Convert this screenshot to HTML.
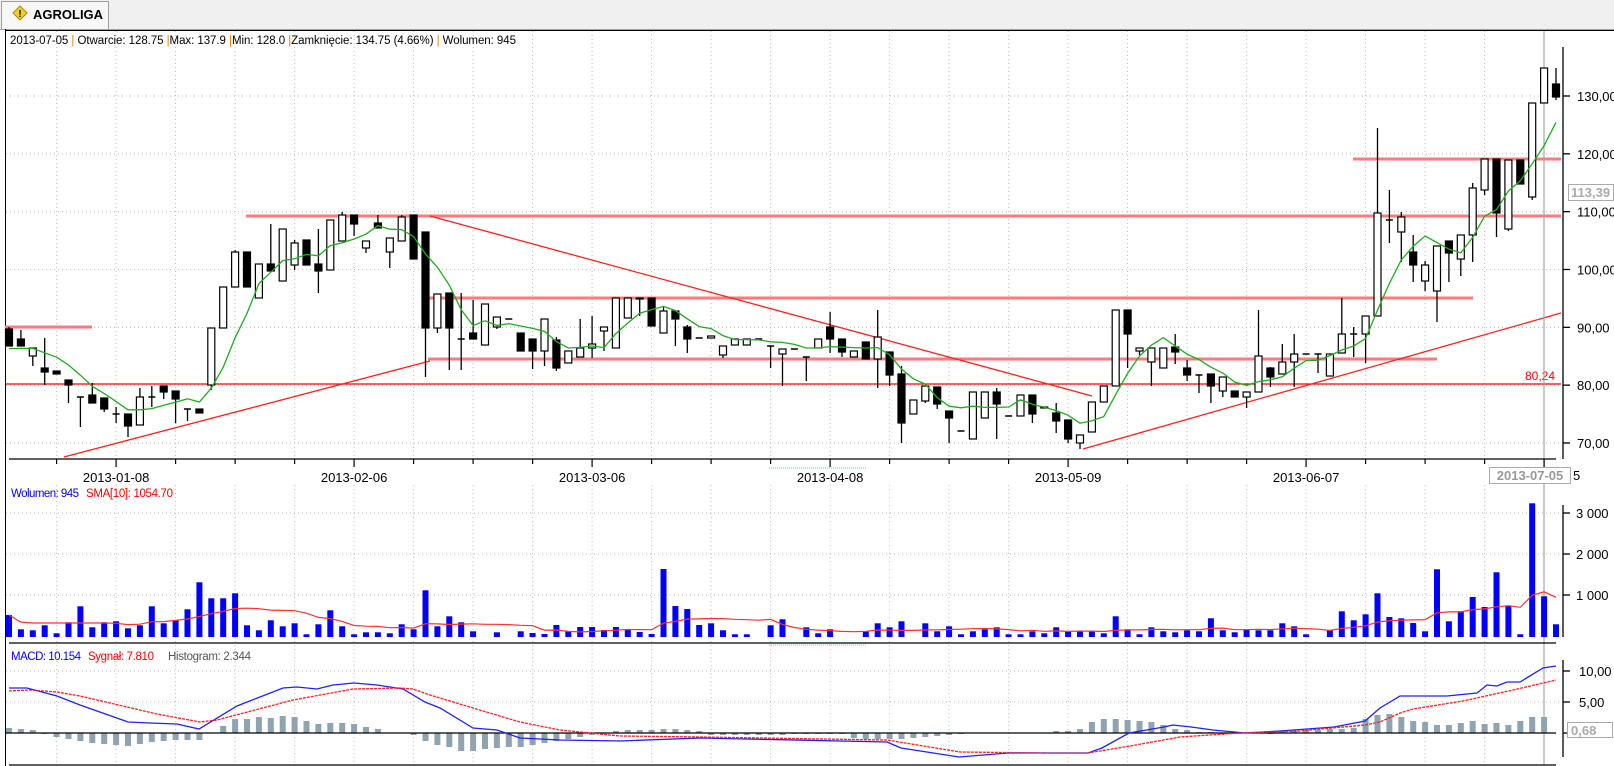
<!DOCTYPE html>
<html><head><meta charset="utf-8"><style>
html,body{margin:0;padding:0;background:#fff;width:1614px;height:766px;overflow:hidden;font-family:"Liberation Sans",sans-serif}
</style></head><body>
<svg id="s" width="1614" height="766" xmlns="http://www.w3.org/2000/svg" font-family="Liberation Sans, sans-serif"></svg>
<script>
const C=[[329,346,327,346,1],[339,346,330,346,1],[348,356,348,366,0],[368,372,338,385,1],[371,374,371,374,1],[380,385,380,403,1],[397,397,397,427,0],[395,403,383,403,1],[398,409,398,412,1],[414,414,407,423,0],
[414,426,414,437,1],[397,425,388,425,0],[397,397,386,407,0],[386,392,386,399,1],[391,399,391,423,1],[409,409,409,421,0],[409,413,409,413,1],[328,385,328,390,0],[287,328,287,328,0],[252,287,250,287,0],
[252,287,252,287,1],[264,298,264,298,0],[264,271,224,271,1],[229,281,229,281,0],[243,265,240,270,0],[240,265,240,265,1],[264,271,229,293,1],[220,270,220,270,0],[215,241,212,241,0],[215,224,215,236,1],
[241,248,241,253,0],[223,228,215,228,1],[238,252,238,268,0],[217,241,215,241,0],[215,259,215,259,1],[232,328,232,377,1],[294,328,294,333,0],[293,328,293,370,1],[339,339,293,370,0],[333,339,300,339,1],
[304,345,304,345,0],[317,327,317,329,0],[319,319,319,319,0],[333,351,333,351,1],[339,351,339,369,1],[319,351,319,366,0],[340,368,337,371,1],[351,363,351,363,0],[348,357,319,357,0],[344,348,316,358,0],
[327,331,327,351,0],[298,348,298,348,0],[298,318,298,318,0],[298,299,298,316,1],[298,326,298,326,1],[311,333,307,333,0],[311,319,311,346,1],[327,339,325,353,1],[338,338,338,338,0],[336,338,336,338,0],
[346,355,346,358,0],[339,345,339,345,0],[339,345,339,345,0],[339,339,339,339,0],[346,346,346,368,0],[349,354,349,386,0],[349,349,349,349,0],[357,357,357,381,0],[339,348,339,348,0],[327,339,312,353,1],
[339,352,339,357,1],[351,357,351,357,0],[342,359,342,359,1],[337,359,310,388,0],[352,375,352,386,1],[374,423,366,443,1],[400,414,400,414,0],[386,401,386,403,0],[387,404,387,409,1],[411,418,411,443,1],
[431,431,431,431,0],[392,439,392,439,0],[392,418,392,418,0],[392,404,388,439,1],[416,416,416,416,0],[395,416,395,416,0],[395,414,395,423,1],[407,408,407,408,0],[413,421,403,433,1],[420,439,420,443,1],
[435,443,435,449,0],[402,432,402,432,0],[386,402,386,402,0],[310,386,310,386,0],[310,334,310,368,1],[348,351,348,355,0],[348,362,348,386,0],[348,368,348,368,0],[347,352,334,364,1],[368,375,360,381,1],
[375,375,375,393,0],[374,386,374,403,1],[377,391,377,397,0],[391,397,391,397,1],[392,397,392,408,0],[356,392,310,392,0],[368,377,367,387,1],[362,374,344,374,0],[354,362,334,387,0],[354,354,354,354,0],
[354,354,354,373,0],[354,376,354,376,0],[334,353,298,353,0],[334,334,327,357,0],[316,334,316,363,0],[213,316,128,316,0],[220,220,190,243,0],[217,232,212,262,0],[252,265,235,282,1],[265,281,261,291,0],
[246,291,246,322,0],[241,253,241,282,1],[235,259,235,276,0],[188,235,183,262,0],[159,190,159,195,0],[159,213,159,237,1],[160,229,160,231,0],[160,184,160,184,1],[103,197,103,200,0],[68,103,68,103,0],[84,97,68,100,1]];
const V=[22,7.7,6.7,11.7,3.7,14.7,30.7,9.7,14.7,15.7,8.7,11.7,30.7,13.7,16.7,27.7,54.7,38.7,38.7,43.7,11.7,6.7,16.7,10.7,13.7,2.7,12.7,26.7,10.7,2.7,4.7,4.7,3.7,12.7,7.7,46.7,10.7,20.7,14.7,5.7,0,4.7,0,5.7,
4,3,12,6,10,10,7,10,7,5,3,68,31,28,12,
13.7,6.7,2.7,2.7,0,11.7,17.7,0,9.7,3.7,7.7,0,0,5.7,13.7,9.7,15.7,0,13.7,5.7,10.7,2.7,5.7,7.7,9.7,2.7,2.7,5.7,3.7,9.7,5.7,5.7,5.7,3.7,20.7,7.7,2.7,9.7,5.7,4.7,6.7,5.7,18.7,6.7,4.7,7.7,6.7,6.7,13.7,10.7,2.7,0,6.7,25.7,16.7,22.7,43.7,
20,18.7,14,5.7,67.7,15.7,25.7,40,30,64.7,31,2.7,133.7,40.7,12.7];
const H=[5,4,3,-1,-4,-6,-8,-10,-11,-12,-13,-11,-9,-8,-7,-7,-7,0,7,14,14,16,15,17,16,12,9,10,10,9,6,4,0,0,-2,-8,-12,-14,-18,-18,-16,-15,-14,-14,
-12,-10,-8,-6,-4,-2,0,2,3,3,3,4,4,3,2,
-2,-2,-2,-2,-2,-2,-2,-1,-1,-1,-1,-1,-5,-6,-6,-6,-6,-5,-4,-3,-2,-1,0,0,0,0,0,0,0,2,2,4,11,14,14,13,12,11,8,4,3,1,1,-1,0,0,0,-1,2,2,3,3,4,4,5,14,
18,19,16,12,11,8,8,10,12,9,10,8,12,16,16];
const X=i=>9+i*11.9;
let o='';
const L=(x1,y1,x2,y2,c,w,d)=>o+=`<line x1="${x1}" y1="${y1}" x2="${x2}" y2="${y2}" stroke="${c}" stroke-width="${w||1}"${d?` stroke-dasharray="${d}"`:''}/>`;
const T=(x,y,t,c,s,a,extra)=>o+=`<text x="${x}" y="${y}" fill="${c||'#000'}" font-size="${s||12}"${a?` text-anchor="${a}"`:''} ${extra||''}>${t}</text>`;
o+=`<rect x="0" y="0" width="1614" height="29" fill="#f0f0f0"/><rect x="1.5" y="1.5" width="107" height="28" fill="#f7f7f7" stroke="#a0a0a0"/>`;
o+=`<polygon points="20,6 27,13 20,20 13,13" fill="#f5d020" stroke="#b08a00"/>`;T(20,17,'!','#000',10,'middle','font-weight="bold"');
T(33,19,'AGROLIGA','#000',13,null,'font-weight="bold"');
L(0,29.5,1614,29.5,'#a0a0a0');L(5.5,29,5.5,766,'#000');L(5,30.5,1614,30.5,'#000');
for(let k=4;k<131;k+=5){const x=X(k);L(x,31,x,459,'#bbb',1,'1,3');L(x,485,x,765,'#bbb',1,'1,3');}
for(let p=70;p<=130;p+=10){const y=96+(130-p)*5.783;L(6,y,1560,y,'#bbb',1,'1,3');}
[513,554,595,671,702].forEach(y=>L(6,y,1560,y,'#bbb',1,'1,3'));
L(5,327,92,327,'#ff7b7b',3);L(246,216,1561,216,'#ff7b7b',3);L(1353,159,1561,159,'#ff7b7b',3);L(428,298,1473,298,'#ff7b7b',3);L(428,359,1437,359,'#ff7b7b',3);
L(6,384,1561,384,'#ff0000',1.3);
L(64,457,430,361,'#ff2020',1.3);L(430,216,1092,396,'#ff2020',1.3);L(1083,449,1561,313,'#ff2020',1.3);
T(1555,380,'80,24','#ff0000',12,'end');
L(1544,31,1544,765,'#a8a8a8',1.2);
C.forEach((c,i)=>{const x=X(i);L(x,c[2],x,c[3],'#000',1.3);
 const h=Math.max(c[1]-c[0],1);
 if(c[1]-c[0]<1){L(x-3.5,c[0],x+3.5,c[0],'#000',1.5);}
 else o+=`<rect x="${x-3.5}" y="${c[0]}" width="7" height="${h}" fill="${c[4]?'#000':'#fff'}" stroke="#000" stroke-width="1.2"/>`;});
let cl=C.map(c=>c[4]?c[1]:c[0]),pts=[];
const base=[352,350,348,347];
for(let i=0;i<cl.length;i++){let s=0;for(let j=0;j<5;j++){const k=i-j;s+=k>=0?cl[k]:base[-k-1];}pts.push(X(i)+','+(s/5).toFixed(1));}
o+=`<polyline points="${pts.join(' ')}" fill="none" stroke="#22aa22" stroke-width="1.3"/>`;
L(1563,47,1563,459,'#000',1.3);
for(let p=70;p<=130;p+=10){const y=96+(130-p)*5.783;L(1563,y,1570,y,'#000',1.3);T(1577,y+5,p+',00','#000',13);}
o+=`<rect x="1568.5" y="184.5" width="45" height="16" fill="#fff" stroke="#aaa"/>`;T(1571,197,'113,39','#aaa',13,null,'font-weight="bold"');
L(9,459,1556,459,'#000',1.3);
for(let k=4;k<131;k+=5){const x=X(k);const maj=(k-9)%20==0;L(x,459,x,maj?467:464,'#000',1.2);}
const D=['2013-01-08','2013-02-06','2013-03-06','2013-04-08','2013-05-09','2013-06-07'];
D.forEach((d,j)=>T(X(9+20*j),482,d,'#000',13,'middle'));
o+=`<rect x="1489.5" y="467.5" width="81" height="16" fill="#fff" stroke="#aaa"/>`;T(1530,480,'2013-07-05','#999',13,'middle','font-weight="bold"');T(1573,480,'5','#000',13);
L(769,468,867,468,'#ff8a8a',1,'1,1');L(769,645,867,645,'#ff8a8a',1,'1,1');
T(11,497,'Wolumen: 945','#0000ff',11.5,null,'textLength="68"');T(86,497,'SMA[10]: 1054.70','#ff0000',11.5,null,'textLength="87"');
V.forEach((v,i)=>{if(v>0)o+=`<rect x="${X(i)-3}" y="${637-v}" width="6" height="${v}" fill="#0000ff"/>`;});
let sp=[];for(let i=0;i<V.length;i++){let s=0,n=0;for(let j=Math.max(0,i-9);j<=i;j++){s+=V[j];n++;}let a=i<9?Math.max(s/n,14):s/n;sp.push(X(i)+','+(637-a).toFixed(1));}
o+=`<polyline points="${sp.join(' ')}" fill="none" stroke="#ff3030" stroke-width="1.2"/>`;
L(9,643,1556,643,'#000',1.3);L(1563,505,1563,637,'#000',1.3);
[[513,'3 000'],[554,'2 000'],[595,'1 000']].forEach(a=>{L(1563,a[0],1570,a[0],'#000',1.3);T(1576,a[0]+5,a[1],'#000',13);});
T(11,660,'MACD: 10.154','#0000ff',11.5,null,'textLength="70"');T(88,660,'Sygnał: 7.810','#ff0000',11.5,null,'textLength="66"');T(168,660,'Histogram: 2.344','#555',11.5,null,'textLength="83"');
H.forEach((h,i)=>{if(h!=0)o+=`<rect x="${X(i)-3}" y="${h>0?733-h:733}" width="6" height="${Math.abs(h)}" fill="#8fa3b0"/>`;});
L(6,733,1556,733,'#000',1.3);
const B=[[9,688],[27,688],[57,696],[80,705],[128,722],[150,723],[177,724],[199,729],[237,706],[260,697],[283,688],[297,687],[317,689],[333,685],[354,683],[377,685],[403,689],[425,702],[440,708],[473,728],[497,730],[520,738],[560,740],[620,741],[700,738],[887,742],[901,748],[959,757],[1008,753],[1066,753],[1088,753],[1102,748],[1129,733],[1164,727],[1173,725],[1191,727],[1213,730],[1245,733],[1280,731],[1334,727],[1365,721],[1380,708],[1400,696],[1447,696],[1477,693],[1487,685],[1497,686],[1507,682],[1520,682],[1543,668],[1556,666]];
const R=[[9,691],[30,690],[57,692],[80,696],[127,707],[157,714],[200,722],[217,720],[293,700],[353,689],[400,688],[413,689],[430,695],[473,708],[520,722],[560,730],[620,736],[700,737],[887,740],[960,752],[1050,753],[1088,753],[1130,746],[1180,737],[1240,733],[1300,731],[1365,725],[1380,722],[1400,713],[1413,709],[1463,701],[1513,690],[1556,680]];
o+=`<polyline points="${B.map(p=>p.join(',')).join(' ')}" fill="none" stroke="#2020ff" stroke-width="1.3"/>`;
o+=`<polyline points="${R.map(p=>p.join(',')).join(' ')}" fill="none" stroke="#ff2020" stroke-width="1.3" stroke-dasharray="3,1"/>`;
L(1563,660,1563,757,'#000',1.3);
[[671,'10,00'],[702,'5,00']].forEach(a=>{L(1563,a[0],1570,a[0],'#000',1.3);T(1579,a[0]+5,a[1],'#000',13);});
L(1563,733,1570,733,'#000',1.3);
o+=`<rect x="1567.5" y="722.5" width="45" height="15" fill="#fff" stroke="#aaa"/>`;T(1571,735,'0,68','#aaa',13,null,'font-weight="bold"');
L(9,765,1556,765,'#000',1.3);
o+=`<text x="10" y="44" font-size="11.5" fill="#000" textLength="506">2013-07-05 <tspan fill="#e08000">|</tspan> Otwarcie: 128.75 <tspan fill="#e08000">|</tspan>Max: 137.9 <tspan fill="#e08000">|</tspan>Min: 128.0 <tspan fill="#e08000">|</tspan>Zamknięcie: 134.75 (4.66%)  <tspan fill="#e08000">|</tspan> Wolumen: 945</text>`;
document.getElementById('s').innerHTML=o;
</script>
</body></html>
